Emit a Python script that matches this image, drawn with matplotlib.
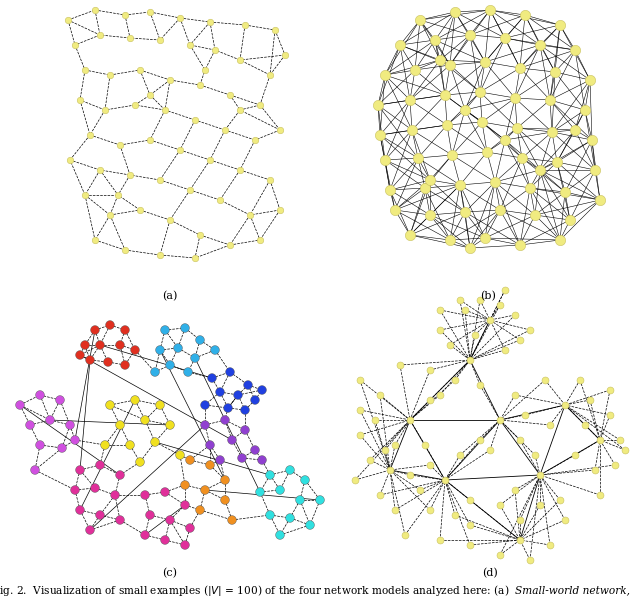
import numpy as np
import matplotlib.pyplot as plt

# node positions (pixel coords of the 640x596 image)
nodes_a = [(68,20),(95,10),(125,15),(150,12),(180,18),(210,22),(245,25),(275,30),(285,55),
           (270,75),(240,60),(215,50),(190,45),(160,40),(130,38),(100,35),(75,45),(85,70),
           (110,75),(140,70),(170,80),(200,85),(230,95),(260,105),(280,130),(255,140),(225,130),
           (195,120),(165,110),(135,105),(105,110),(80,100),(90,135),(120,145),(150,140),(180,150),
           (210,160),(240,170),(270,180),(280,210),(250,215),(220,200),(190,190),(160,180),(130,175),
           (100,170),(85,195),(110,215),(140,210),(170,220),(200,235),(230,245),(260,240),(95,240),
           (125,250),(160,255),(195,258),(118,195),(205,70),(150,95),(240,110),(70,160)]
nodes_b = [(420,20),(455,12),(490,10),(525,15),(560,25),(400,45),(435,40),(470,35),(505,38),(540,45),
           (575,50),(385,75),(415,70),(450,65),(485,62),(520,68),(555,72),(590,80),(378,105),(410,100),
           (445,95),(480,92),(515,98),(550,100),(585,110),(380,135),(412,130),(447,125),(482,122),(517,128),
           (552,132),(592,140),(385,160),(418,158),(452,155),(487,152),(522,158),(557,162),(595,170),(390,190),
           (425,188),(460,185),(495,182),(530,188),(565,192),(600,200),(395,210),(430,215),(465,212),(500,210),
           (535,215),(570,220),(410,235),(450,240),(485,238),(520,245),(560,240),(470,248),(430,180),(505,140),
           (465,110),(540,170),(440,60),(575,130)]
nodes_c = [(95,330,'#e03020'),(110,325,'#e03020'),(125,330,'#e03020'),(85,345,'#e03020'),(100,345,'#e03020'),
           (120,345,'#e03020'),(135,350,'#e03020'),(90,360,'#e03020'),(108,362,'#e03020'),(125,365,'#e03020'),
           (80,355,'#e03020'),
           (165,330,'#30b0e8'),(185,328,'#30b0e8'),(200,340,'#30b0e8'),(160,350,'#30b0e8'),(178,348,'#30b0e8'),
           (195,358,'#30b0e8'),(170,365,'#30b0e8'),(188,372,'#30b0e8'),(155,372,'#30b0e8'),(215,350,'#30b0e8'),
           (212,378,'#2040e0'),(230,372,'#2040e0'),(248,385,'#2040e0'),(220,392,'#2040e0'),(238,395,'#2040e0'),
           (255,400,'#2040e0'),(205,405,'#2040e0'),(228,408,'#2040e0'),(245,410,'#2040e0'),(262,390,'#2040e0'),
           (20,405,'#d050e0'),(40,395,'#d050e0'),(60,400,'#d050e0'),(30,425,'#d050e0'),(50,420,'#d050e0'),
           (70,425,'#d050e0'),(40,445,'#d050e0'),(62,448,'#d050e0'),(35,470,'#d050e0'),(75,440,'#d050e0'),
           (110,405,'#f0e020'),(135,400,'#f0e020'),(160,405,'#f0e020'),(120,425,'#f0e020'),(145,420,'#f0e020'),
           (170,425,'#f0e020'),(105,445,'#f0e020'),(130,445,'#f0e020'),(155,442,'#f0e020'),(180,455,'#f0e020'),
           (140,462,'#f0e020'),
           (205,425,'#9040d0'),(225,420,'#9040d0'),(245,430,'#9040d0'),(210,445,'#9040d0'),(232,440,'#9040d0'),
           (255,450,'#9040d0'),(220,460,'#9040d0'),(242,458,'#9040d0'),(262,460,'#9040d0'),
           (80,470,'#e0309a'),(100,465,'#e0309a'),(120,475,'#e0309a'),(75,490,'#e0309a'),(95,488,'#e0309a'),
           (115,495,'#e0309a'),(80,510,'#e0309a'),(100,515,'#e0309a'),(120,520,'#e0309a'),(90,530,'#e0309a'),
           (145,495,'#e0309a'),(165,492,'#e0309a'),(185,505,'#e0309a'),(150,515,'#e0309a'),(170,520,'#e0309a'),
           (190,528,'#e0309a'),(145,535,'#e0309a'),(165,540,'#e0309a'),(185,545,'#e0309a'),
           (190,460,'#f09020'),(210,465,'#f09020'),(225,480,'#f09020'),(185,485,'#f09020'),(205,490,'#f09020'),
           (225,500,'#f09020'),(200,510,'#f09020'),(232,520,'#f09020'),
           (270,475,'#30e0e0'),(290,470,'#30e0e0'),(305,480,'#30e0e0'),(260,492,'#30e0e0'),(280,490,'#30e0e0'),
           (300,500,'#30e0e0'),(320,500,'#30e0e0'),(270,515,'#30e0e0'),(290,518,'#30e0e0'),(310,525,'#30e0e0'),
           (280,535,'#30e0e0')]
hubs_d = [(470,360),(410,420),(500,420),(565,405),(445,480),(540,475),(490,320),(600,440),(390,470),(520,540)]
leaves_d = [(465,310),(480,300),(500,305),(515,315),(520,340),(440,330),(450,345),(475,335),(505,350),
            (455,380),(480,385),(430,370),(440,395),(380,395),(360,380),(375,420),(360,435),(395,445),
            (425,445),(430,400),(515,395),(525,415),(490,450),(520,440),(480,440),(545,380),(580,380),
            (590,400),(610,415),(585,425),(550,425),(620,440),(615,465),(595,470),(575,455),(560,500),
            (540,505),(515,490),(565,520),(500,505),(470,500),(455,515),(430,510),(420,490),(460,455),
            (410,475),(370,460),(355,480),(380,495),(395,510),(405,535),(440,540),(470,545),(500,555),
            (530,560),(550,545),(520,520),(470,525),(430,465),(360,410),(600,495),(625,450),(535,455),
            (460,300),(440,310),(505,290),(530,330),(400,365),(385,450),(610,390)]

fig = plt.figure(figsize=(6.4, 5.96), dpi=100)
ax = fig.add_axes([0, 0, 1, 1])
ax.set_xlim(0, 640)
ax.set_ylim(596, 0)
ax.axis('off')


def knn_edges(pts, k):
    p = np.array(pts, dtype=float)
    d = np.hypot(p[:, None, 0] - p[None, :, 0], p[:, None, 1] - p[None, :, 1])
    e = set()
    for i in range(len(p)):
        for j in np.argsort(d[i])[1:k + 1]:
            e.add((min(i, j), max(i, j)))
    return p, e


def draw_net(pts, k, size, color, lw, ls='--'):
    p, e = knn_edges(pts, k)
    for i, j in e:
        ax.plot([p[i, 0], p[j, 0]], [p[i, 1], p[j, 1]], color='k', lw=lw, ls=ls, zorder=1)
    ax.scatter(p[:, 0], p[:, 1], s=size, c=color, edgecolors='#c8c060', linewidths=0.4, zorder=2)


draw_net(nodes_a, 3, 22, '#f0eb80', 0.5)
draw_net(nodes_b, 9, 55, '#f0eb80', 0.4, '-')

pc = [(x, y) for x, y, c in nodes_c]
cols = [c for x, y, c in nodes_c]
p, e = knn_edges(pc, 3)
for i, j in e:
    ax.plot([p[i, 0], p[j, 0]], [p[i, 1], p[j, 1]], color='k', lw=0.5, ls='--', zorder=1)
for i in range(0, len(p) - 6, 7):
    ax.plot([p[i, 0], p[(i * 3 + 40) % len(p), 0]], [p[i, 1], p[(i * 3 + 40) % len(p), 1]], color='k', lw=0.5, zorder=1)
ax.scatter(p[:, 0], p[:, 1], s=40, c=cols, edgecolors='#555555', linewidths=0.3, zorder=2)

h = np.array(hubs_d, dtype=float)
lv = np.array(leaves_d, dtype=float)
for a in range(len(h)):
    for b in range(a + 1, len(h)):
        if np.hypot(*(h[a] - h[b])) < 100:
            ax.plot([h[a, 0], h[b, 0]], [h[a, 1], h[b, 1]], color='k', lw=0.6, zorder=1)
for q in lv:
    dd = np.hypot(h[:, 0] - q[0], h[:, 1] - q[1])
    for j in np.argsort(dd)[:2]:
        ax.plot([q[0], h[j, 0]], [q[1], h[j, 1]], color='k', lw=0.5, ls='--', zorder=1)
allp = np.vstack([h, lv])
ax.scatter(allp[:, 0], allp[:, 1], s=25, c='#f0eb80', edgecolors='#c8c060', linewidths=0.4, zorder=2)

for lab, x, y in [('(a)', 170, 296), ('(b)', 488, 296), ('(c)', 170, 573), ('(d)', 490, 573)]:
    ax.text(x, y, lab, ha='center', va='center', fontsize=8, family='DejaVu Serif')
ax.text(-8, 590, 'Fig. 2.  Visualization of small examples ($|V|$ = 100) of the four network models analyzed here: (a)',
        ha='left', va='center', fontsize=7.6, family='DejaVu Serif')
ax.text(515, 590, 'Small-world network,', ha='left', va='center', fontsize=7.6, family='DejaVu Serif', style='italic')

fig.savefig('out.png', dpi=100)
